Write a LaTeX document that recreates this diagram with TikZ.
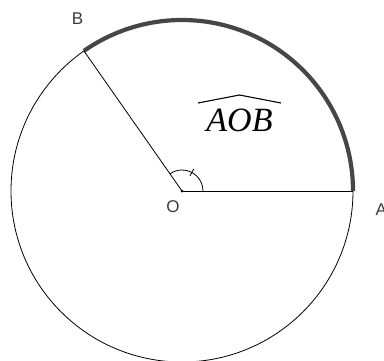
\documentclass[tikz,border=0pt]{standalone}
\usepackage{fontspec}
\usetikzlibrary{calc}
\setmainfont{Liberation Serif}
\newfontfamily\lblfont{Liberation Sans}
\tikzset{
  thin line/.style={line width=0.8pt, black},
  thick arc/.style={line width=4.2pt, draw={rgb,255:red,70;green,70;blue,70}},
  ptlabel/.style={font=\lblfont\fontsize{17}{17}\selectfont, text={rgb,255:red,60;green,60;blue,60}, inner sep=0pt},
  arclabel/.style={font=\itshape\fontsize{34}{34}\selectfont, inner sep=0pt, anchor=base}
}
\begin{document}
\begin{tikzpicture}[x=1pt,y=1pt]
\useasboundingbox (0,0) rectangle (384,360);
\coordinate (O) at (182,169);
\coordinate (A) at (353,169);
\coordinate (B) at (83.9,309.1);
% circle
\draw[thin line] (O) circle (171);
% thick arc A -> B
\draw[thick arc] (A) arc (0:125:171);
% radii
\draw[thin line] (O) -- (A);
\draw[thin line] (O) -- (B);
% angle mark
\draw[thin line] ($(O)+(21,0)$) arc (0:125:21);
\draw[thin line] ($(O)+(62:17)$) -- ($(O)+(62:25)$);
\fill (O) circle (1.5);
% labels
\node[ptlabel] (lB) at (77.5,341.5) {B};
\node[ptlabel] (lO) at (173,153.5) {O};
\node[ptlabel, anchor=west] (lA) at (375.5,150.5) {A};
\node[arclabel] (lAOB) at (239.5,229) {AOB};
\draw[line width=1.1pt] (198,257) -- (239.5,265) -- (281,257);
\end{tikzpicture}
\end{document}
